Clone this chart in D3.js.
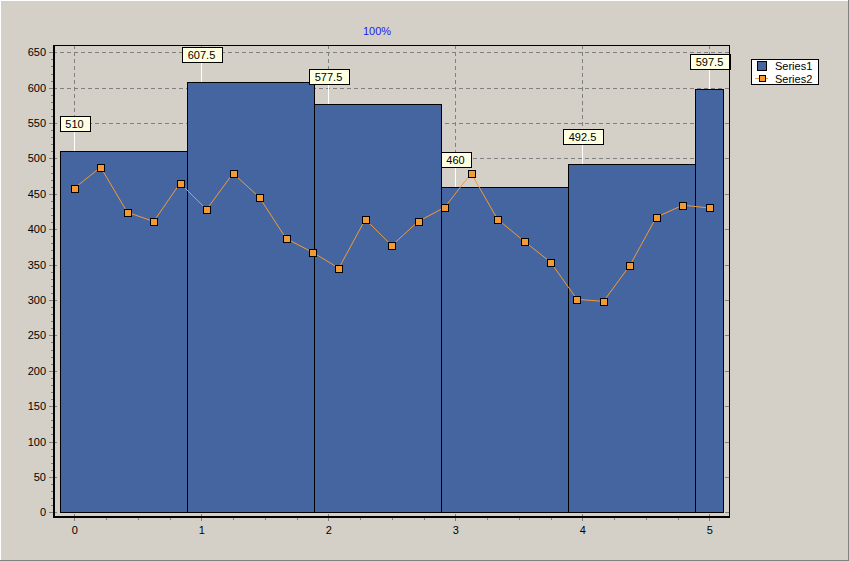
<!DOCTYPE html>
<html>
<head>
<meta charset="utf-8">
<script src="https://cdn.jsdelivr.net/npm/d3@7"></script>
<style>
  html, body { margin: 0; padding: 0; background: #D4D0C8; }
  svg { display: block; font-family: "Liberation Sans", Arial, sans-serif; }
</style>
</head>
<body>
<svg id="chart" width="849" height="561"></svg>
<script>
// ---- data ----
const series1X = [0, 1, 2, 3, 4, 5];
const series1Values = [510, 607.5, 577.5, 460, 492.5, 597.5];
const series2X = [0, 0.208, 0.417, 0.625, 0.833, 1.042, 1.25, 1.458, 1.667, 1.875, 2.083, 2.292, 2.5,
                  2.708, 2.917, 3.125, 3.333, 3.542, 3.75, 3.958, 4.167, 4.375, 4.583, 4.792, 5];
const series2Values = [458, 487.5, 424, 411, 465, 428, 479, 445, 387, 367.5, 345, 414, 377,
                       411, 431, 479, 414, 383, 353.5, 301, 298, 349, 417, 434, 430];
const xTickValues = [0, 1, 2, 3, 4, 5];
const yTickValues = [0, 50, 100, 150, 200, 250, 300, 350, 400, 450, 500, 550, 600, 650];
const seriesNames = ["Series1", "Series2"];
const titleText = "100%";

// ---- layout ----
const W = 849, H = 561;
const plot = { left: 53, top: 45, right: 729.5, bottom: 517 };
const barColor = "#4465A0";
const lineColor = "#F39A34";
const gridColor = "#808080";
const barOffset = 0.11;

const svg = d3.select("#chart");

const x = d3.scaleLinear().domain([0, 5]).range([74.3, 709.3]);
const y = d3.scaleLinear().domain([0, 650]).range([512.3, 52.3]);

// window border
svg.append("line").attr("x1", 0.5).attr("y1", 0).attr("x2", 0.5).attr("y2", H).attr("stroke", "#ffffff");
svg.append("line").attr("x1", 0).attr("y1", 0.5).attr("x2", W).attr("y2", 0.5).attr("stroke", "#ffffff");
svg.append("line").attr("x1", W - 0.5).attr("y1", 0).attr("x2", W - 0.5).attr("y2", H).attr("stroke", "#808080");
svg.append("line").attr("x1", 0).attr("y1", H - 0.5).attr("x2", W).attr("y2", H - 0.5).attr("stroke", "#808080");

// title
svg.append("text").attr("x", 377).attr("y", 35).attr("text-anchor", "middle")
  .attr("font-size", 11).attr("fill", "#2020F0").text(titleText);

// gridlines
const grid = svg.append("g").attr("stroke", gridColor).attr("stroke-dasharray", "4,3").attr("shape-rendering", "crispEdges");
grid.selectAll("line.h").data(yTickValues).join("line").attr("class", "h")
  .attr("x1", plot.left).attr("x2", plot.right)
  .attr("y1", d => Math.round(y(d)) + 0.5).attr("y2", d => Math.round(y(d)) + 0.5);
grid.selectAll("line.v").data(xTickValues).join("line").attr("class", "v")
  .attr("y1", plot.top).attr("y2", plot.bottom)
  .attr("x1", d => Math.round(x(d)) + 0.5).attr("x2", d => Math.round(x(d)) + 0.5);

// bars (series1)
const bars = series1X.map((xv, i) => ({
  x0: xv - barOffset,
  x1: (i < series1X.length - 1 ? series1X[i + 1] : xv + 2 * barOffset) - barOffset,
  v: series1Values[i],
  xv
}));
svg.append("g").selectAll("rect").data(bars).join("rect")
  .attr("x", d => Math.round(x(d.x0)) + 0.5)
  .attr("width", d => Math.round(x(d.x1)) - Math.round(x(d.x0)))
  .attr("y", d => Math.round(y(d.v)) + 0.5)
  .attr("height", d => Math.round(y(0)) - Math.round(y(d.v)))
  .attr("fill", barColor).attr("stroke", "#000").attr("stroke-width", 1)
  .attr("shape-rendering", "crispEdges");

// series2 line and markers
const pts = series2X.map((xv, i) => [x(xv), y(series2Values[i])]);
svg.append("path").attr("d", d3.line()(pts)).attr("fill", "none").attr("stroke", lineColor).attr("stroke-width", 1);
svg.append("g").selectAll("rect").data(pts).join("rect")
  .attr("x", d => Math.round(d[0] - 3.5) + 0.5).attr("y", d => Math.round(d[1] - 3.5) + 0.5)
  .attr("width", 7).attr("height", 7)
  .attr("fill", lineColor).attr("stroke", "#000").attr("stroke-width", 1)
  .attr("shape-rendering", "crispEdges");

// data labels for series1
const lab = svg.append("g");
bars.forEach(d => {
  const cx = Math.round(x(d.xv)) + 0.5;
  const topY = Math.round(y(d.v));
  const boxBottom = topY - 20;
  lab.append("line").attr("x1", cx).attr("x2", cx).attr("y1", boxBottom).attr("y2", topY)
    .attr("stroke", "#ffffff").attr("stroke-width", 1);
  const g = lab.append("g");
  const r = g.append("rect");
  const t = g.append("text").attr("x", cx).attr("y", boxBottom - 3.5)
    .attr("text-anchor", "middle").attr("font-size", 11).attr("fill", "#000").text(d3.format("")(d.v));
  const bw = Math.round(t.node().getBBox().width + 12);
  r.attr("x", Math.round(cx - bw / 2) + 0.5).attr("y", boxBottom - 15 + 0.5)
    .attr("width", bw).attr("height", 15)
    .attr("fill", "#FFFFE1").attr("stroke", "#000").attr("shape-rendering", "crispEdges");
});

// axes
const yMinor = d3.range(0, 651, 10).filter(v => v % 50 !== 0);
const yAxis = svg.append("g").attr("transform", `translate(${plot.left},0)`)
  .call(d3.axisLeft(y).tickValues(yTickValues).tickSize(4).tickPadding(3).tickFormat(d3.format("d")));
const yAxisMinor = svg.append("g").attr("transform", `translate(${plot.left},0)`)
  .call(d3.axisLeft(y).tickValues(yMinor).tickSize(2).tickFormat(""));
const yAxisRight = svg.append("g").attr("transform", `translate(${plot.right},0)`)
  .call(d3.axisLeft(y).tickValues(yTickValues).tickSize(2).tickFormat(""));

const xMinor = d3.range(0, 5.01, 0.25).filter(v => Math.abs(v - Math.round(v)) > 0.01);
const xAxis = svg.append("g").attr("transform", `translate(0,${plot.bottom})`)
  .call(d3.axisBottom(x).tickValues(xTickValues).tickSize(4).tickPadding(5).tickFormat(d3.format("d")));
const xAxisMinor = svg.append("g").attr("transform", `translate(0,${plot.bottom})`)
  .call(d3.axisBottom(x).tickValues(xMinor).tickSize(3).tickFormat(""));

[yAxis, yAxisMinor, yAxisRight, xAxis, xAxisMinor].forEach(g => {
  g.select(".domain").remove();
  g.selectAll(".tick line").attr("stroke", "#808080").attr("shape-rendering", "crispEdges");
  g.selectAll(".tick text").attr("font-size", 11).attr("fill", "#000")
    .attr("font-family", "Liberation Sans, Arial, sans-serif");
});

// plot frame
svg.append("line").attr("x1", plot.left).attr("x2", plot.right + 0.5).attr("y1", 45.5).attr("y2", 45.5).attr("stroke", "#000");
svg.append("line").attr("x1", plot.right).attr("x2", plot.right).attr("y1", 45).attr("y2", plot.bottom).attr("stroke", "#000");
svg.append("line").attr("x1", 54).attr("x2", 54).attr("y1", 45).attr("y2", 518).attr("stroke", "#000").attr("stroke-width", 2);
svg.append("line").attr("x1", 53).attr("x2", plot.right + 0.5).attr("y1", 517).attr("y2", 517).attr("stroke", "#000").attr("stroke-width", 2);

// legend
const lg = svg.append("g");
lg.append("rect").attr("x", 751.5).attr("y", 59.5).attr("width", 67).attr("height", 25)
  .attr("fill", "#fff").attr("stroke", "#000").attr("shape-rendering", "crispEdges");
lg.append("rect").attr("x", 757.5).attr("y", 61.5).attr("width", 9).attr("height", 9)
  .attr("fill", barColor).attr("stroke", "#000").attr("shape-rendering", "crispEdges");
lg.append("line").attr("x1", 755).attr("x2", 768).attr("y1", 78.5).attr("y2", 78.5).attr("stroke", lineColor);
lg.append("rect").attr("x", 759.5).attr("y", 75.5).attr("width", 6).attr("height", 6)
  .attr("fill", lineColor).attr("stroke", "#000").attr("shape-rendering", "crispEdges");
lg.selectAll("text").data(seriesNames).join("text")
  .attr("x", 775).attr("y", (d, i) => 69.5 + i * 13.5)
  .attr("font-size", 11).attr("fill", "#000").text(d => d);
</script>
</body>
</html>
